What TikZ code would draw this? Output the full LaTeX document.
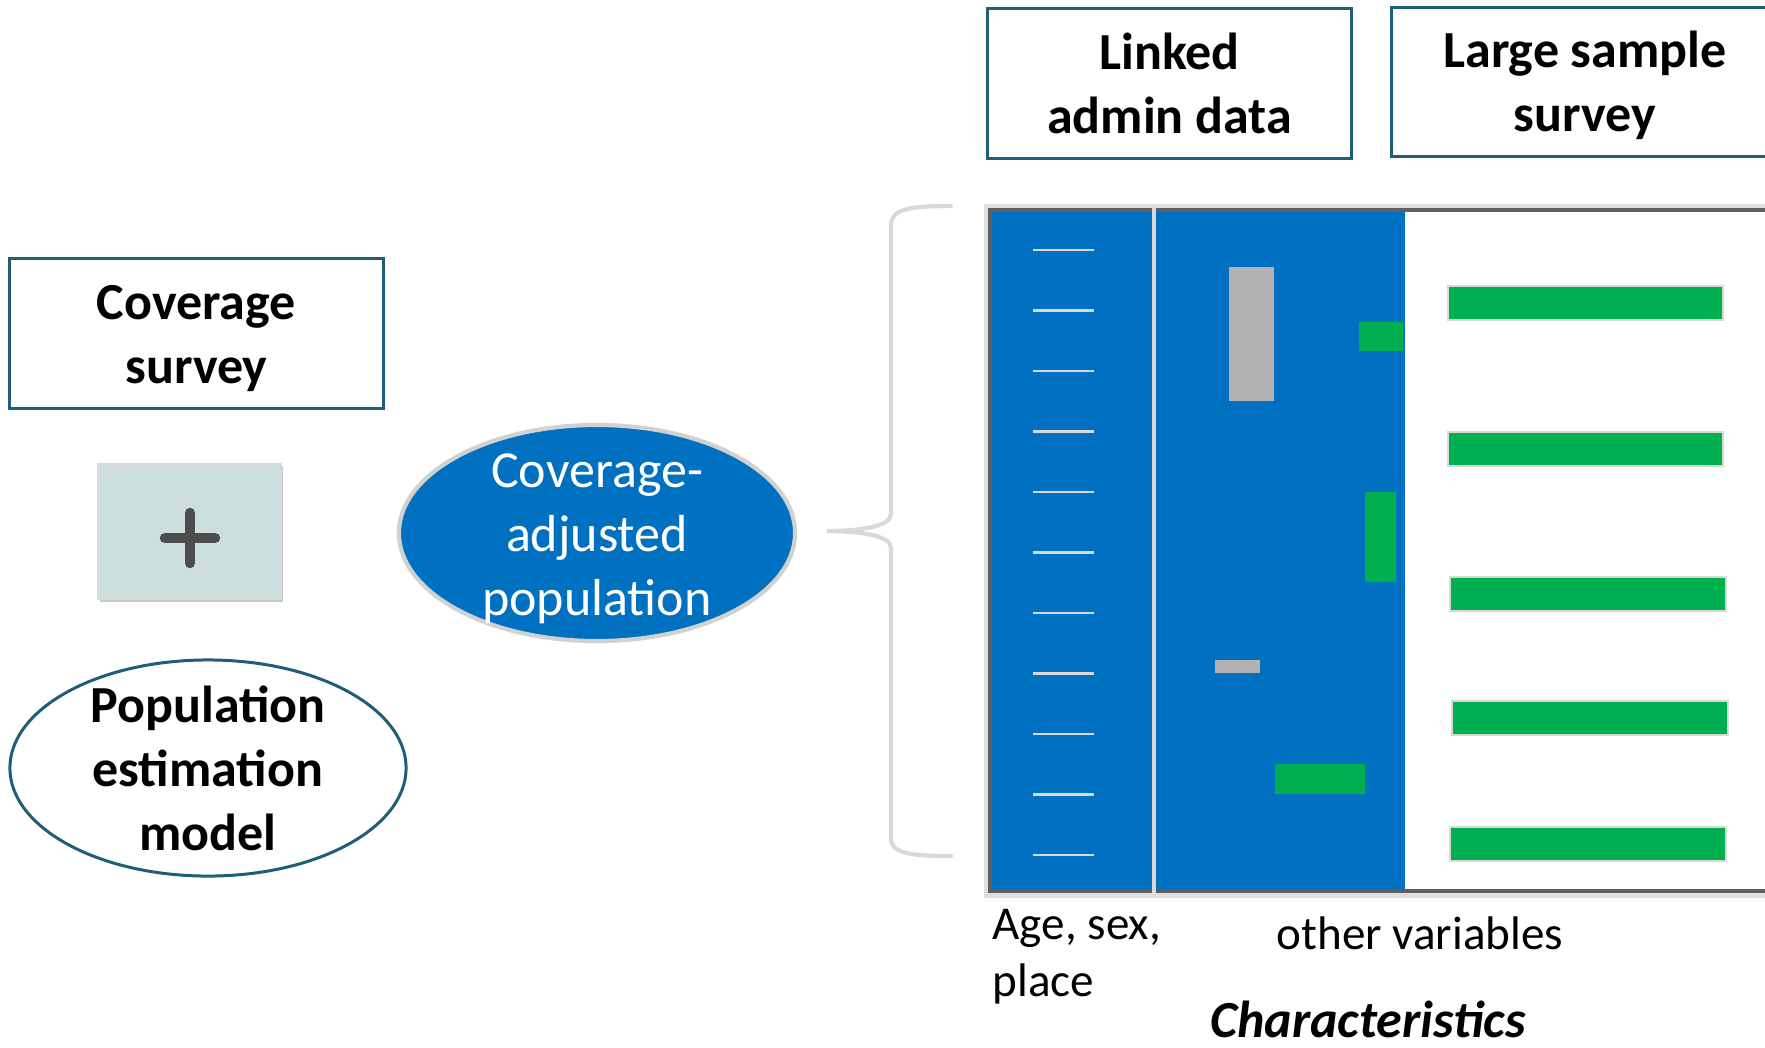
\documentclass[tikz,border=0pt]{standalone}
\usepackage{fontspec}
\setmainfont{Carlito}
\usetikzlibrary{shapes.geometric}

\definecolor{tealline}{RGB}{31,94,120}
\definecolor{niceblue}{RGB}{0,112,192}
\definecolor{nicegreen}{RGB}{0,176,80}
\definecolor{barGray}{RGB}{178,178,178}
\definecolor{plusfill}{RGB}{205,222,223}
\definecolor{plusink}{RGB}{77,77,77}
\definecolor{frameGray}{RGB}{95,95,95}
\definecolor{softGray}{RGB}{217,217,217}

\begin{document}
\begin{tikzpicture}[x=0.01cm,y=-0.01cm,
        box/.style={rectangle,draw=tealline,line width=0.85pt,fill=white,minimum width=3.73cm,minimum height=1.49cm,inner sep=0pt},
        bigtext/.style={font=\fontsize{14.8pt}{18.2pt}\selectfont\bfseries,align=center,inner sep=0pt},
        ovaltext/.style={font=\fontsize{14.8pt}{18.2pt}\selectfont,align=center,inner sep=0pt,text=white},
        smalltext/.style={font=\fontsize{13.4pt}{16.2pt}\selectfont,inner sep=0pt},
        oval/.style={ellipse,minimum width=3.96cm,minimum height=2.16cm,inner sep=0pt},
        tick/.style={draw=softGray,line width=0.6pt},
        bar/.style={fill=nicegreen,draw=black!15,line width=0.6pt},
        brace/.style={draw=softGray,line width=1.2pt,line cap=round},
      ]
      \useasboundingbox (0,0) rectangle (1765,1047);
%
      \node[box] at (196.5,333.5) (Coverage) {};
      \node[bigtext] at (196.5,339) (Coveragetext) {Coverage\\survey};
      \node[box,minimum width=3.63cm] at (1169.5,83.5) (Linked) {};
      \node[bigtext] at (Linked) (Linkedtext) {Linked\\admin data};
      \node[box,minimum width=3.86cm] at (1585,82) (Large) {};
      \node[bigtext] at (1585,85) (Largetext) {Large sample\\survey};
%
      \fill[black!22] (100,466) rectangle (283,602);
      \node[rectangle,fill=plusfill,draw=black!15,line width=0.8pt,minimum width=1.83cm,minimum height=1.35cm] at (189.5,531.5) (Plus) {};
      \draw[draw=plusink,line width=3pt,line cap=round] (165,538) -- (215,538);
      \draw[draw=plusink,line width=3pt,line cap=round] (190,513) -- (190,563);
%
      \node[oval,draw=tealline,line width=0.85pt] at (208,768) (Model) {};
      \node[bigtext] at (Model) (Modeltext) {Population\\estimation\\model};
      \node[oval,fill=niceblue,draw=black!18,line width=1.2pt] at (597,533) (Adjusted) {};
      \node[ovaltext] at (597,539) (Adjustedtext) {Coverage-\\adjusted\\population};
%
      \draw[brace] (951,206) .. controls (905,206) and (891,210) .. (891,226) -- (891,514)
        .. controls (891,526) and (862,531) .. (827,531) .. controls (862,531) and (891,536) .. (891,548)
        -- (891,838) .. controls (891,852) and (905,856) .. (951,856);
%
      \fill[black!12] (984,204) rectangle (1800,898);
      \fill[white] (990,210) rectangle (1800,891);
      \fill[niceblue] (990,210) rectangle (1405,891);
      \draw[draw=frameGray,line width=1.4pt] (990,210) rectangle (1800,891);
      \draw[draw=softGray,line width=1.1pt] (1154,206) -- (1154,893);
      \foreach \i in {0,...,10}
        \draw[tick] (1033,250+60.5*\i) -- (1094,250+60.5*\i);
%
      \fill[barGray] (1229,267) rectangle (1274,401);
      \fill[barGray] (1215,660) rectangle (1260,673);
      \fill[nicegreen] (1359,322) rectangle (1403,351);
      \fill[nicegreen] (1365,492) rectangle (1396,582);
      \fill[nicegreen] (1275,764) rectangle (1365,794);
%
      \draw[bar] (1448,286) rectangle (1723,320);
      \draw[bar] (1448,432) rectangle (1723,466);
      \draw[bar] (1450,577) rectangle (1726,611);
      \draw[bar] (1452,701) rectangle (1728,735);
      \draw[bar] (1450,827) rectangle (1726,861);
%
      \node[smalltext,align=left,anchor=west] at (992,957) (Agelabel) {Age, sex,\\place};
      \node[smalltext] at (1420,933) (Otherlabel) {other variables};
      \node[smalltext,font=\fontsize{14.8pt}{18.2pt}\selectfont\bfseries\itshape] at (1368,1019) (Charlabel) {Characteristics};
    \end{tikzpicture}
\end{document}
